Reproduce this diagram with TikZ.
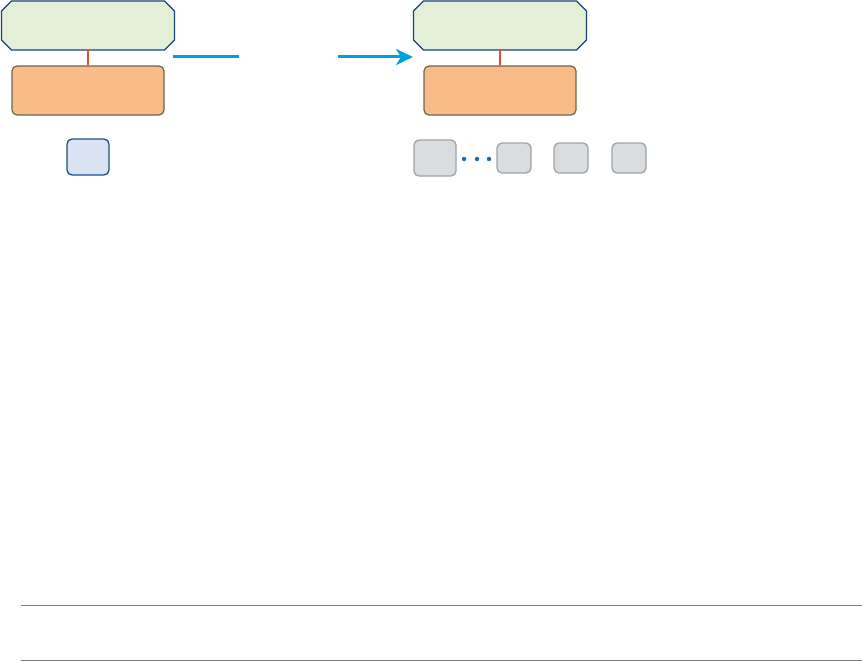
\documentclass[tikz,border=0pt]{standalone}
\usetikzlibrary{arrows.meta,calc}
\definecolor{octfill}{HTML}{E3EFD6}
\definecolor{octdraw}{HTML}{17427A}
\definecolor{orfill}{HTML}{F9BC89}
\definecolor{ordraw}{HTML}{6B6650}
\definecolor{redln}{HTML}{E84A2C}
\definecolor{arrowblue}{HTML}{00A0DE}
\definecolor{lbfill}{HTML}{DAE3F2}
\definecolor{lbdraw}{HTML}{1D4E8C}
\definecolor{gyfill}{HTML}{D9DDE0}
\definecolor{gydraw}{HTML}{9FA3A7}
\definecolor{dotblue}{HTML}{1F6BB0}
\definecolor{rule}{HTML}{808080}
\newcommand{\myoct}[1]{%
  \draw[fill=octfill, draw=octdraw, line width=1.4pt]
    ($(#1.north west)+(10,0)$) -- ($(#1.north east)+(-10,0)$) -- ($(#1.north east)+(0,10)$)
    -- ($(#1.south east)+(0,-10)$) -- ($(#1.south east)+(-10,0)$) -- ($(#1.south west)+(10,0)$)
    -- ($(#1.south west)+(0,-10)$) -- ($(#1.north west)+(0,10)$) -- cycle;}
\begin{document}
\begin{tikzpicture}[x=1pt,y=-1pt,
  octbox/.style={rectangle, minimum width=173pt, minimum height=49pt, inner sep=0pt, outer sep=0pt},
  orbox/.style={rectangle, rounded corners=5pt, fill=orfill, draw=ordraw, line width=1.2pt,
     minimum width=152pt, minimum height=49pt, inner sep=0pt},
  redlink/.style={draw=redln, line width=1.6pt},
  lbbox/.style={rectangle, rounded corners=5pt, fill=lbfill, draw=lbdraw, line width=1.3pt,
     minimum width=42pt, minimum height=36pt, inner sep=0pt},
  gybox/.style={rectangle, rounded corners=5pt, fill=gyfill, draw=gydraw, line width=1.3pt, inner sep=0pt},
  flow/.style={draw=arrowblue, line width=3pt},
  dotmark/.style={circle, fill=dotblue, inner sep=0pt, minimum size=4.5pt},
  rulelin/.style={draw=rule, line width=1pt}]
\useasboundingbox (0,0) rectangle (862,661);
% left group
\node[octbox] (oct1) at (88,25.5) {};
\myoct{oct1}
\node[orbox] (or1) at (88,90.5) {};
\draw[redlink] (oct1.south) -- (or1.north);
\node[lbbox] (lb1) at (88,157) {};
% right group
\node[octbox] (oct2) at (500,25.5) {};
\myoct{oct2}
\node[orbox] (or2) at (500,90.5) {};
\draw[redlink] (oct2.south) -- (or2.north);
\node[gybox, minimum width=42pt, minimum height=36pt] (g0) at (435,158) {};
\node[dotmark] (d1) at (464,159) {};
\node[dotmark] (d2) at (477,159) {};
\node[dotmark] (d3) at (489,159) {};
\node[gybox, minimum width=34pt, minimum height=30pt] (g1) at (514,158) {};
\node[gybox, minimum width=34pt, minimum height=30pt] (g2) at (571,158) {};
\node[gybox, minimum width=34pt, minimum height=30pt] (g3) at (629,158) {};
% arrow
\coordinate (a1) at (173,57);
\coordinate (a2) at (239,57);
\coordinate (a3) at (338,57);
\coordinate (a4) at (413,57);
\draw[flow] (a1) -- (a2);
\draw[flow, -{Stealth[length=17pt,width=16pt,inset=5pt]}] (a3) -- (a4);
% rules
\coordinate (r1a) at (21,605);
\coordinate (r1b) at (862,605);
\coordinate (r2a) at (21,660);
\coordinate (r2b) at (862,660);
\draw[rulelin] (r1a) -- (r1b);
\draw[rulelin] (r2a) -- (r2b);
\end{tikzpicture}
\end{document}
